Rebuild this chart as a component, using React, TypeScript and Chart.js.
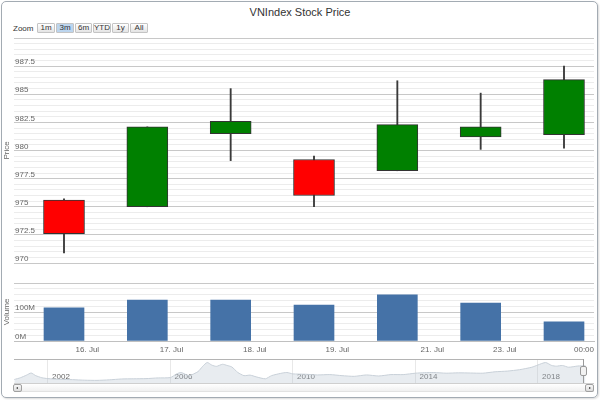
import React, { useEffect, useRef } from "react";
import { Chart, registerables } from "chart.js";

Chart.register(...registerables);

const FONT = '"Liberation Sans", Arial, sans-serif';

// ---- data ----
const candleX = [0, 1, 2, 3, 4, 5, 6];
const opens = [975.6, 975.0, 981.5, 979.2, 978.2, 981.2, 981.4];
const highs = [975.7, 982.1, 985.5, 979.5, 986.2, 985.1, 987.5];
const lows = [970.9, 975.0, 979.1, 975.0, 978.2, 980.1, 980.2];
const closes = [972.6, 982.1, 982.6, 976.0, 982.3, 982.1, 986.3];
const volumes = [114e6, 141e6, 141e6, 124e6, 159e6, 131e6, 66e6];

const xTickPositions = [0.28, 1.29, 2.29, 3.28, 4.42, 5.29, 6.24];
const xTickLabels = ["16. Jul", "17. Jul", "18. Jul", "19. Jul", "21. Jul", "23. Jul", "00:00"];

const navYears = [
  2000.9, 2001.1, 2001.3, 2001.45, 2001.6, 2001.8, 2002.0, 2002.4, 2002.8, 2003.2, 2003.6,
  2004.0, 2004.4, 2004.8, 2005.2, 2005.6, 2006.0, 2006.2, 2006.35, 2006.6, 2006.9, 2007.05,
  2007.2, 2007.35, 2007.5, 2007.7, 2007.85, 2008.0, 2008.2, 2008.4, 2008.6, 2008.8, 2009.1,
  2009.3, 2009.6, 2009.8, 2010.0, 2010.4, 2010.8, 2011.2, 2011.6, 2012.0, 2012.4, 2012.8,
  2013.2, 2013.6, 2014.0, 2014.3, 2014.6, 2015.0, 2015.4, 2015.8, 2016.2, 2016.6, 2017.0,
  2017.4, 2017.8, 2018.0, 2018.25, 2018.45, 2018.6, 2018.8, 2019.0, 2019.3, 2019.55,
];
const navValues = [
  200, 300, 450, 570, 420, 300, 250, 210, 190, 160, 150,
  180, 230, 240, 250, 290, 310, 520, 600, 420, 650, 950,
  1170, 1020, 950, 1070, 1000, 920, 600, 420, 450, 350, 240,
  420, 550, 600, 520, 500, 460, 480, 420, 380, 460, 400,
  480, 480, 560, 590, 600, 560, 580, 570, 560, 640, 680,
  760, 900, 1030, 1170, 1000, 960, 1000, 900, 970, 985,
];
const navTickYears = [2002, 2006, 2010, 2014, 2018];

const priceMin = 970;
const priceMax = 990;
const priceMinorStep = 0.5;
const priceMajorStep = 2.5;
const volMax = 200e6;
const volMinorStep = 20e6;
const volMajorStep = 100e6;

const zoomButtons = ["1m", "3m", "6m", "YTD", "1y", "All"];
const selectedZoom = "3m";

const isMult = (v: number, s: number) => Math.abs(v / s - Math.round(v / s)) < 1e-6;

const stepTicks = (min: number, max: number, step: number) => {
  const t: { value: number }[] = [];
  const n = Math.round((max - min) / step);
  for (let i = 0; i <= n; i++) t.push({ value: +(min + i * step).toFixed(6) });
  return t;
};

const MAJOR = "#C8C8C8";
const MINOR = "#ECECEC";

export default function App() {
  const priceRef = useRef<HTMLCanvasElement>(null);
  const volRef = useRef<HTMLCanvasElement>(null);
  const navRef = useRef<HTMLCanvasElement>(null);

  useEffect(() => {
    const charts: Chart[] = [];
    const xMin = -0.6;
    const xMax = 6.36;

    charts.push(
      new Chart(priceRef.current!, {
        type: "bar",
        data: {
          datasets: [
            {
              label: "body",
              data: candleX.map((x, i) => ({ x, y: [opens[i], closes[i]] })) as any,
              backgroundColor: candleX.map((_, i) => (closes[i] < opens[i] ? "#FF0000" : "#008000")),
              borderColor: "#333333",
              borderWidth: 1,
              borderSkipped: false,
              barThickness: 41,
              grouped: false,
            } as any,
            {
              label: "wick",
              data: candleX.map((x, i) => ({ x, y: [lows[i], highs[i]] })) as any,
              backgroundColor: "#3a3a3a",
              borderWidth: 0,
              barThickness: 1.2,
              grouped: false,
            } as any,
          ],
        },
        options: {
          animation: false,
          responsive: false,
          devicePixelRatio: 1,
          layout: { padding: { top: 6, bottom: 6, left: 0, right: 6 } },
          plugins: { legend: { display: false }, tooltip: { enabled: false } },
          scales: {
            x: { type: "linear", display: false, offset: false, min: xMin, max: xMax },
            y: {
              type: "linear",
              min: priceMin,
              max: priceMax,
              afterBuildTicks: (s: any) => {
                s.ticks = stepTicks(priceMin, priceMax, priceMinorStep);
              },
              afterFit: (s: any) => {
                s.width = 14;
              },
              grid: {
                color: (c: any) => (c.tick && isMult(c.tick.value, priceMajorStep) ? MAJOR : MINOR),
                drawTicks: false,
              },
              border: { display: false },
              ticks: {
                autoSkip: false,
                mirror: true,
                padding: 1,
                labelOffset: -4,
                color: "#666",
                font: { family: FONT, size: 8 },
                callback: (v: any) => (isMult(+v, priceMajorStep) && +v < priceMax ? String(v) : ""),
              },
              title: {
                display: true,
                text: "Price",
                color: "#666",
                font: { family: FONT, size: 8 },
                padding: { top: 2, bottom: 0 },
              },
            } as any,
          },
        },
      })
    );

    charts.push(
      new Chart(volRef.current!, {
        type: "bar",
        data: {
          datasets: [
            {
              label: "Volume",
              data: candleX.map((x, i) => ({ x, y: volumes[i] })),
              backgroundColor: "#4572A7",
              borderWidth: 0,
              barThickness: 40,
            } as any,
          ],
        },
        options: {
          animation: false,
          responsive: false,
          devicePixelRatio: 1,
          layout: { padding: { top: 6, bottom: 0, left: 0, right: 6 } },
          plugins: { legend: { display: false }, tooltip: { enabled: false } },
          scales: {
            x: {
              type: "linear",
              offset: false,
              min: xMin,
              max: xMax,
              afterBuildTicks: (s: any) => {
                s.ticks = xTickPositions.map((value) => ({ value }));
              },
              afterFit: (s: any) => {
                s.height = 16;
              },
              grid: { display: false, drawTicks: false, offset: false },
              border: { display: true, color: "#C0C0C0" },
              ticks: {
                autoSkip: false,
                maxRotation: 0,
                padding: 4,
                color: "#666",
                font: { family: FONT, size: 8 },
                callback: (_v: any, i: number) => xTickLabels[i],
              },
            } as any,
            y: {
              type: "linear",
              min: 0,
              max: volMax,
              afterBuildTicks: (s: any) => {
                s.ticks = stepTicks(0, volMax, volMinorStep);
              },
              afterFit: (s: any) => {
                s.width = 14;
              },
              grid: {
                color: (c: any) => (c.tick && isMult(c.tick.value, volMajorStep) ? MAJOR : MINOR),
                drawTicks: false,
              },
              border: { display: false },
              ticks: {
                autoSkip: false,
                mirror: true,
                padding: 1,
                labelOffset: -4,
                color: "#666",
                font: { family: FONT, size: 8 },
                callback: (v: any) =>
                  isMult(+v, volMajorStep) && +v < volMax ? `${Math.round(+v / 1e6)}M` : "",
              },
              title: {
                display: true,
                text: "Volume",
                color: "#666",
                font: { family: FONT, size: 8 },
                padding: { top: 2, bottom: 0 },
              },
            } as any,
          },
        },
      })
    );

    charts.push(
      new Chart(navRef.current!, {
        type: "line",
        data: {
          datasets: [
            {
              label: "nav",
              data: navYears.map((x, i) => ({ x, y: navValues[i] })),
              fill: "start",
              backgroundColor: "rgba(185,195,208,0.32)",
              borderColor: "#c8d0d8",
              borderWidth: 1,
              pointRadius: 0,
              tension: 0.2,
            } as any,
          ],
        },
        options: {
          animation: false,
          responsive: false,
          devicePixelRatio: 1,
          layout: { padding: { top: 0, bottom: 0, left: 14, right: 6 } },
          plugins: { legend: { display: false }, tooltip: { enabled: false } },
          scales: {
            x: {
              type: "linear",
              min: 2000.89,
              max: 2019.83,
              afterBuildTicks: (s: any) => {
                s.ticks = navTickYears.map((value) => ({ value }));
              },
              afterFit: (s: any) => {
                s.height = 0;
              },
              grid: { color: "#E8E8E8", drawTicks: false },
              border: { display: false },
              ticks: {
                autoSkip: false,
                maxRotation: 0,
                mirror: true,
                padding: 1,
                labelOffset: 13,
                color: "#666",
                font: { family: FONT, size: 8 },
                callback: (v: any) => String(v),
              },
            } as any,
            y: { type: "linear", display: false, min: 0, max: 1370 },
          },
        },
      })
    );

    return () => charts.forEach((c) => c.destroy());
  }, []);

  const btnX = [37, 56, 75, 93, 112, 130];
  const btnW = [18, 18, 17, 18, 17, 18];

  return (
    <div
      style={{
        position: "absolute",
        left: 0,
        top: 0,
        width: 600,
        height: 400,
        background: "#fff",
        overflow: "hidden",
        fontFamily: FONT,
      }}
    >
      <div
        style={{
          position: "absolute",
          left: 1,
          top: 1,
          width: 597,
          height: 397,
          boxSizing: "border-box",
          border: "1px solid #a3abb3",
          borderRadius: 5,
          boxShadow: "1px 1px 2px rgba(0,0,0,0.15)",
        }}
      />
      <div
        style={{
          position: "absolute",
          left: 0,
          top: 5,
          width: 600,
          textAlign: "center",
          fontSize: 11,
          lineHeight: "14px",
          color: "#333",
        }}
      >
        VNIndex Stock Price
      </div>
      <div style={{ position: "absolute", left: 13, top: 24, fontSize: 8, lineHeight: "10px", color: "#333" }}>
        Zoom
      </div>
      {zoomButtons.map((b, i) => (
        <div
          key={b}
          style={{
            position: "absolute",
            left: btnX[i],
            top: 23,
            width: btnW[i],
            height: 10,
            boxSizing: "border-box",
            border: "1px solid #c4c4c4",
            borderRadius: 1,
            background: b === selectedZoom ? "#bcd5ee" : "linear-gradient(#ffffff, #e4e4e4)",
            fontSize: 8,
            lineHeight: "8px",
            textAlign: "center",
            color: "#333",
          }}
        >
          {b}
        </div>
      ))}
      <canvas ref={priceRef} width={600} height={237} style={{ position: "absolute", left: 0, top: 32 }} />
      <canvas ref={volRef} width={600} height={80} style={{ position: "absolute", left: 0, top: 277 }} />
      <canvas ref={navRef} width={600} height={24} style={{ position: "absolute", left: 0, top: 359 }} />
      {/* navigator outline and handle */}
      <div style={{ position: "absolute", left: 14, top: 359, width: 569, height: 0, borderTop: "1px solid #b4b4b4" }} />
      <div style={{ position: "absolute", left: 583, top: 359, width: 0, height: 29, borderLeft: "1px solid #9a9a9a" }} />
      <div
        style={{
          position: "absolute",
          left: 580,
          top: 366,
          width: 7,
          height: 10,
          boxSizing: "border-box",
          border: "1px solid #999",
          borderRadius: 2,
          background: "#f2f2f2",
        }}
      />
      {/* scrollbar */}
      <div
        style={{
          position: "absolute",
          left: 14,
          top: 383,
          width: 580,
          height: 9,
          boxSizing: "border-box",
          borderTop: "1px solid #cfcfcf",
          borderBottom: "1px solid #e2e2e2",
          background: "linear-gradient(#ffffff, #f0f0f0)",
        }}
      />
      <div
        style={{
          position: "absolute",
          left: 13,
          top: 384,
          width: 9,
          height: 8,
          boxSizing: "border-box",
          border: "1px solid #a0a0a0",
          borderRadius: 2,
          background: "linear-gradient(#f8f8f8, #dcdcdc)",
        }}
      >
        <div
          style={{
            position: "absolute",
            left: 2,
            top: 1.5,
            width: 0,
            height: 0,
            borderTop: "1.5px solid transparent",
            borderBottom: "1.5px solid transparent",
            borderRight: "2.5px solid #333",
          }}
        />
      </div>
      <div
        style={{
          position: "absolute",
          left: 585,
          top: 384,
          width: 9,
          height: 8,
          boxSizing: "border-box",
          border: "1px solid #a0a0a0",
          borderRadius: 2,
          background: "linear-gradient(#f8f8f8, #dcdcdc)",
        }}
      >
        <div
          style={{
            position: "absolute",
            left: 3,
            top: 1.5,
            width: 0,
            height: 0,
            borderTop: "1.5px solid transparent",
            borderBottom: "1.5px solid transparent",
            borderLeft: "2.5px solid #333",
          }}
        />
      </div>
    </div>
  );
}
